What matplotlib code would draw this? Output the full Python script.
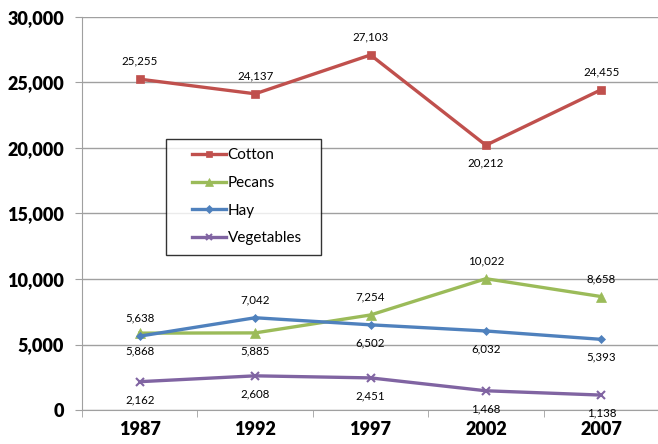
import matplotlib
matplotlib.use("Agg")
import matplotlib.pyplot as plt
from matplotlib.lines import Line2D
from matplotlib.legend_handler import HandlerLine2D
import numpy as np

years = ["1987", "1992", "1997", "2002", "2007"]
cotton = [25255, 24137, 27103, 20212, 24455]
pecans = [5868, 5885, 7254, 10022, 8658]
hay = [5638, 7042, 6502, 6032, 5393]
vegetables = [2162, 2608, 2451, 1468, 1138]
y_ticks = [0, 5000, 10000, 15000, 20000, 25000, 30000]

series = [
    ("Cotton", cotton, "#C0504D", "s", 6, [1, 1, 1, -1, 1]),
    ("Pecans", pecans, "#9BBB59", "^", 7, [-1, -1, 1, 1, 1]),
    ("Hay", hay, "#4F81BD", "D", 4.5, [1, 1, -1, -1, -1]),
    ("Vegetables", vegetables, "#8064A2", "x", 6, [-1, -1, -1, -1, -1]),
]

plt.rcParams['font.family'] = ['Lato', 'DejaVu Sans']

fig = plt.figure(figsize=(6.58, 4.44), dpi=100)
ax = fig.add_axes([82/658, 1-410/444, 577/658, (410-17)/444])

x = np.arange(len(years))
for name, vals, color, marker, ms, pos in series:
    ax.plot(x, vals, color=color, lw=2.4, marker=marker, ms=ms,
            markeredgewidth=1.5 if marker == "x" else 0.5,
            markeredgecolor=color, label=name, zorder=3)
    for xi, v, p in zip(x, vals, pos):
        ax.annotate(f"{v:,}", (xi, v), xytext=(0, 13*p), textcoords="offset points",
                    ha="center", va="center", fontsize=8.3, color="black")

ax.set_xlim(-0.5, 4.5)
ax.set_ylim(0, 30000)
ax.set_yticks(y_ticks)
ax.set_yticklabels([f"{t:,}" for t in y_ticks], fontsize=13, fontweight="heavy")
ax.set_xticks(x)
ax.set_xticklabels(years, fontsize=13, fontweight="heavy")
ax.set_xticks(np.arange(-0.5, 5, 1), minor=True)
ax.tick_params(axis="x", which="major", length=0, pad=8)
ax.tick_params(axis="x", which="minor", length=5, color="#A0A0A0")
ax.tick_params(axis="y", length=5, color="#A0A0A0", pad=8)
ax.yaxis.grid(True, color="#A0A0A0", lw=1)
ax.set_axisbelow(True)
for s in ["top", "right"]:
    ax.spines[s].set_visible(False)
for s in ["left", "bottom"]:
    ax.spines[s].set_color("#A0A0A0")

leg = fig.legend(loc="upper left", bbox_to_anchor=(166/658, 1-139/444, 155/658, 0.0),
                 mode="expand", fontsize=11, frameon=True, fancybox=False,
                 edgecolor="black", labelspacing=0.9, handlelength=3.3,
                 handletextpad=0.13, borderpad=0.6, borderaxespad=0,
                 markerscale=0.8,
                 handler_map={Line2D: HandlerLine2D(xpad=1.1)})
leg.get_frame().set_linewidth(1)

fig.savefig("out.png", dpi=100)
